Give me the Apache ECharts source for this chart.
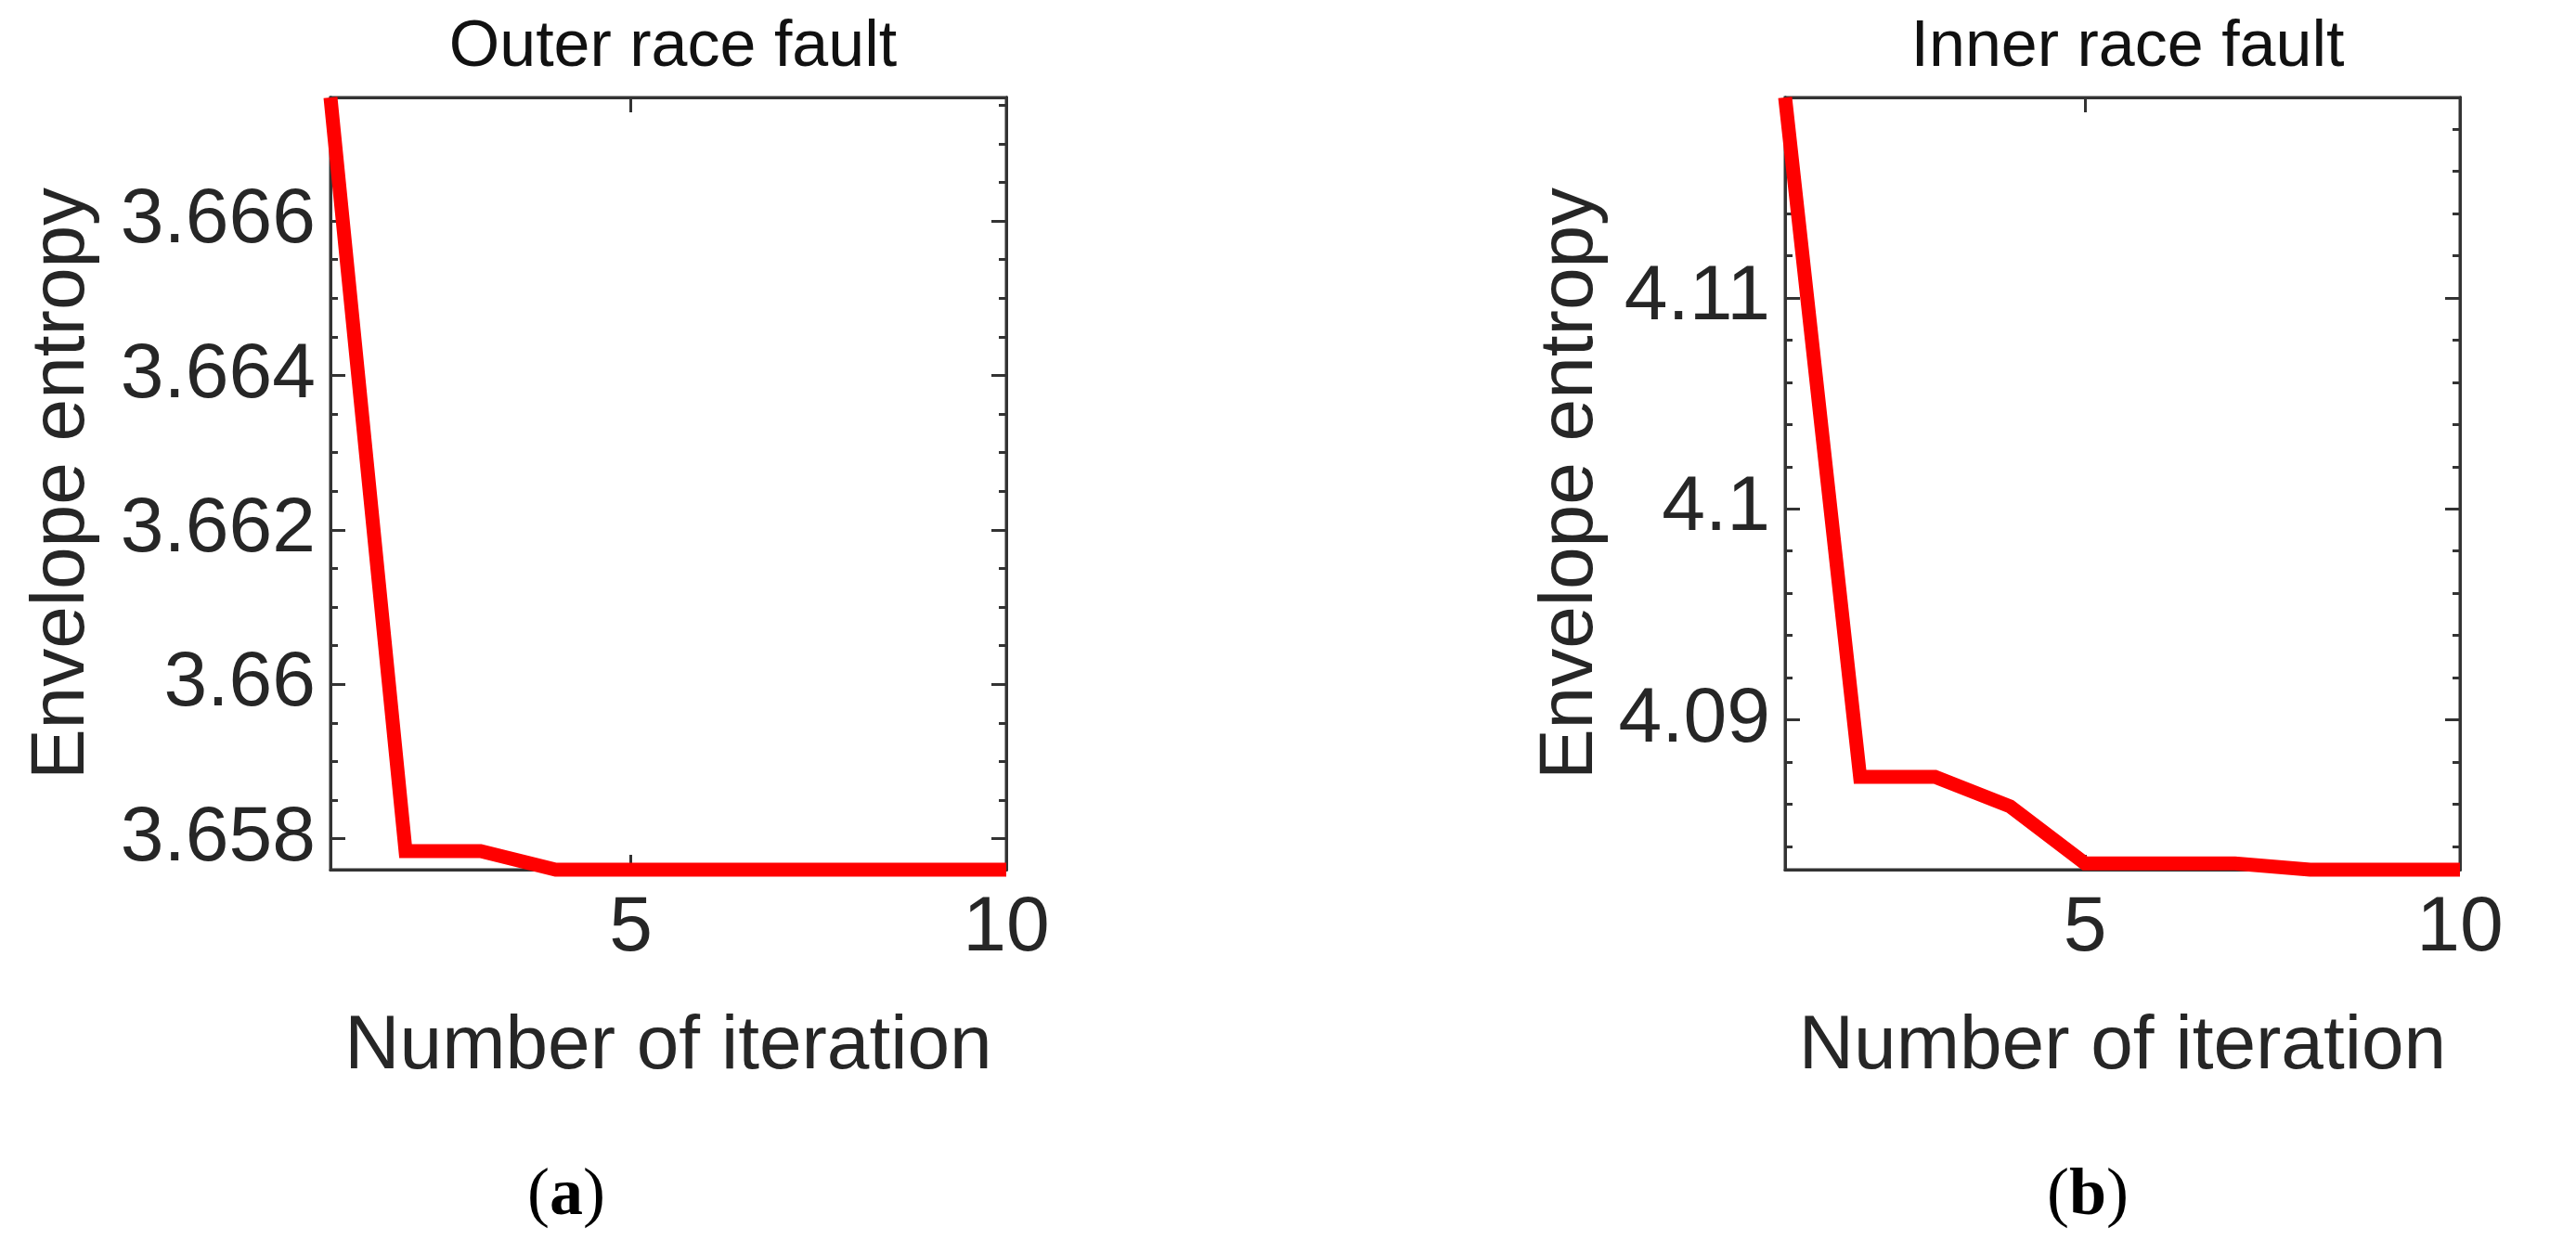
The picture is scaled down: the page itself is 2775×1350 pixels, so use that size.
<!doctype html>
<html>
<head>
<meta charset="UTF-8">
<title>Envelope entropy</title>
<script src="https://cdn.jsdelivr.net/npm/echarts@6/dist/echarts.min.js"></script>
<style>
  html, body { margin: 0; padding: 0; background: #fff; }
  #chart { width: 2775px; height: 1350px; }
</style>
</head>
<body>
<div id="chart"></div>
<script>
// iterations and entropy values
var iterations = [1, 2, 3, 4, 5, 6, 7, 8, 9, 10];
var outerRace = [3.6676, 3.65784, 3.65784, 3.6576, 3.6576, 3.6576, 3.6576, 3.6576, 3.6576, 3.6576];
var innerRace = [4.1195, 4.0873, 4.0873, 4.0859, 4.0832, 4.0832, 4.0832, 4.0829, 4.0829, 4.0829];

// axis ticks
var xLabels = [5, 10];
var outerMajor = [3.658, 3.66, 3.662, 3.664, 3.666];
var outerMinor = [3.6585, 3.659, 3.6595, 3.6605, 3.661, 3.6615, 3.6625, 3.663, 3.6635, 3.6645, 3.665, 3.6655, 3.6665, 3.667, 3.6675];
var innerMajor = [4.09, 4.1, 4.11];
var innerMinor = [4.084, 4.086, 4.088, 4.092, 4.094, 4.096, 4.098, 4.102, 4.104, 4.106, 4.108, 4.112, 4.114, 4.116, 4.118];

var txt = '#262626';
var font = 'Liberation Sans';

function pairs(ys) {
  return iterations.map(function (x, i) { return [x, ys[i]]; });
}

function yAxes(gi, min, max, major, minor) {
  var base = { type: 'value', gridIndex: gi, min: min, max: max, splitLine: { show: false },
    axisLine: { show: true, lineStyle: { color: '#333', width: 3 } } };
  function ax(pos, vals, len, label) {
    return Object.assign({}, base, {
      position: pos,
      axisTick: { show: true, inside: true, length: len, customValues: vals, lineStyle: { color: '#333', width: 3 } },
      axisLabel: label ? { show: true, customValues: major, color: txt, fontFamily: font, fontSize: 84, margin: 16,
        formatter: function (v) { return String(+v.toFixed(4)); } } : { show: false }
    });
  }
  return [ax('left', major, 16, true), ax('left', minor, 8, false), ax('right', major, 16, false), ax('right', minor, 8, false)];
}

function xAxes(gi) {
  var base = { type: 'value', gridIndex: gi, min: 1, max: 10, splitLine: { show: false },
    axisLine: { show: true, lineStyle: { color: '#333', width: 3 } } };
  return [
    Object.assign({}, base, { position: 'bottom',
      name: 'Number of iteration', nameLocation: 'middle', nameGap: 150,
      nameTextStyle: { color: txt, fontFamily: font, fontSize: 82 },
      axisTick: { show: true, inside: true, length: 16, customValues: xLabels, lineStyle: { color: '#333', width: 3 } },
      axisLabel: { show: true, customValues: xLabels, color: txt, fontFamily: font, fontSize: 84, margin: 22 } }),
    Object.assign({}, base, { position: 'top',
      axisTick: { show: true, inside: true, length: 16, customValues: xLabels, lineStyle: { color: '#333', width: 3 } },
      axisLabel: { show: false } })
  ];
}

var grids = [
  { left: 356, top: 105, width: 728, height: 832 },
  { left: 1923, top: 105, width: 727, height: 832 }
];

var ya = yAxes(0, 3.6576, 3.6676, outerMajor, outerMinor);
var yb = yAxes(1, 4.0829, 4.1195, innerMajor, innerMinor);
ya[0].name = 'Envelope entropy';
yb[0].name = 'Envelope entropy';
[ya[0], yb[0]].forEach(function (a) {
  a.nameLocation = 'middle';
  a.nameGap = 248;
  a.nameTextStyle = { color: txt, fontFamily: font, fontSize: 82 };
});
yb[0].nameGap = 190;

function lineSeries(xi, yi, ys) {
  return { type: 'line', xAxisIndex: xi, yAxisIndex: yi, data: pairs(ys), showSymbol: false, clip: false,
    lineStyle: { color: '#ff0000', width: 15, join: 'miter' }, z: 5 };
}

var chart = echarts.init(document.getElementById('chart'));
chart.setOption({
  backgroundColor: '#fff',
  animation: false,
  title: [
    { text: 'Outer race fault', left: 720, top: 12, textAlign: 'center',
      textStyle: { color: '#111', fontFamily: font, fontSize: 70, fontWeight: 'normal' } },
    { text: 'Inner race fault', left: 2287, top: 12, textAlign: 'center',
      textStyle: { color: '#111', fontFamily: font, fontSize: 70, fontWeight: 'normal' } },
    { text: '({b|a})', left: 605, top: 1248, textAlign: 'center',
      textStyle: { color: '#000', fontFamily: 'Liberation Serif', fontSize: 72, fontWeight: 'normal',
        rich: { b: { fontFamily: 'Liberation Serif', fontSize: 72, fontWeight: 'bold', color: '#000' } } } },
    { text: '({b|b})', left: 2244, top: 1248, textAlign: 'center',
      textStyle: { color: '#000', fontFamily: 'Liberation Serif', fontSize: 72, fontWeight: 'normal',
        rich: { b: { fontFamily: 'Liberation Serif', fontSize: 72, fontWeight: 'bold', color: '#000' } } } }
  ],
  grid: grids.map(function (g) { return Object.assign({ show: true, borderColor: '#333', borderWidth: 3, backgroundColor: '#fff' }, g); }),
  xAxis: xAxes(0).concat(xAxes(1)),
  yAxis: ya.concat(yb),
  series: [lineSeries(0, 0, outerRace), lineSeries(2, 4, innerRace)]
});
</script>
</body>
</html>
